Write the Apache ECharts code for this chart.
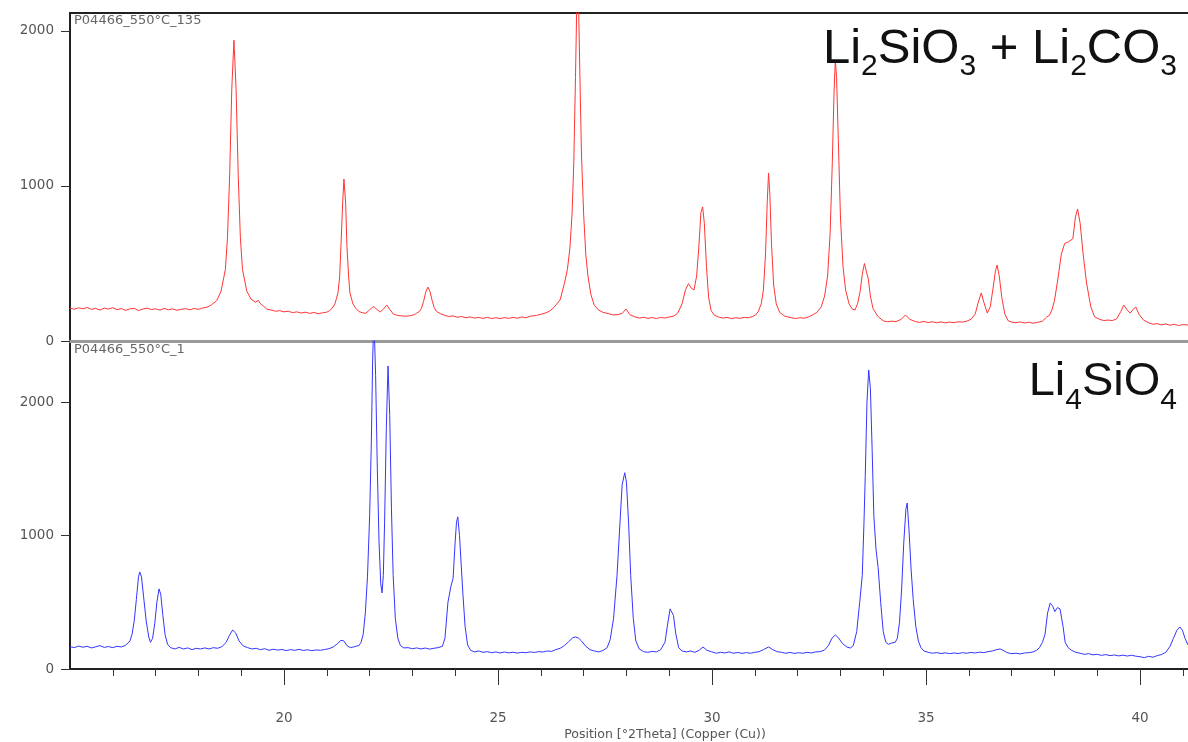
<!DOCTYPE html>
<html>
<head>
<meta charset="utf-8">
<script src="https://cdn.jsdelivr.net/npm/echarts@6/dist/echarts.min.js"></script>
<style>
html,body{margin:0;padding:0;background:#fff;}
#chart{width:1188px;height:742px;}
</style>
</head>
<body>
<div id="chart"></div>
<script>
// ---- Data ----
const xTickLabels = [20, 25, 30, 35, 40];
const xMinorTicks = [16,17,18,19,21,22,23,24,26,27,28,29,31,32,33,34,36,37,38,39,41];
const yTickLabels = [0, 1000, 2000];
const topSampleName = 'P04466_550°C_135';
const bottomSampleName = 'P04466_550°C_1';
const xAxisTitle = 'Position [°2Theta] (Copper (Cu))';
// Phase labels: [text, isSubscript]
const topPhase = [['Li', false], ['2', true], ['SiO', false], ['3', true], [' + Li', false], ['2', true], ['CO', false], ['3', true]];
const bottomPhase = [['Li', false], ['4', true], ['SiO', false], ['4', true]];

// Red pattern (Li2SiO3 + Li2CO3): [2theta, counts]
const redScan = [[15.0,212],[15.1,205],[15.2,214],[15.3,208],[15.4,216],[15.5,204],[15.6,210],[15.7,200],[15.8,212],[15.9,206],[16.0,215],[16.1,202],[16.2,209],[16.3,198],[16.4,207],[16.5,211],[16.6,196],[16.7,206],[16.8,212],[16.9,203],[17.0,208],[17.1,199],[17.2,210],[17.3,202],[17.4,207],[17.5,198],[17.6,204],[17.7,209],[17.8,201],[17.9,210],[18.0,204],[18.1,213],[18.2,218],[18.3,232],[18.43,261],[18.53,322],[18.63,461],[18.68,670],[18.73,1070],[18.78,1627],[18.83,1940],[18.88,1627],[18.93,1070],[18.98,670],[19.03,461],[19.13,322],[19.23,270],[19.33,250],[19.4,262],[19.45,240],[19.52,225],[19.6,205],[19.7,200],[19.8,192],[19.9,196],[20.0,188],[20.1,192],[20.2,183],[20.3,188],[20.4,180],[20.5,186],[20.6,178],[20.7,184],[20.8,176],[20.9,182],[21.0,186],[21.06,195],[21.12,210],[21.19,240],[21.26,310],[21.3,413],[21.33,612],[21.37,889],[21.4,1045],[21.44,889],[21.47,612],[21.51,413],[21.54,310],[21.61,240],[21.68,210],[21.75,190],[21.8,185],[21.9,178],[21.98,195],[22.05,215],[22.1,222],[22.18,200],[22.25,188],[22.32,205],[22.4,232],[22.47,205],[22.55,175],[22.65,165],[22.75,162],[22.85,160],[22.95,163],[23.05,170],[23.1,180],[23.16,190],[23.21,210],[23.26,255],[23.31,315],[23.36,348],[23.41,320],[23.46,262],[23.51,215],[23.56,192],[23.66,175],[23.76,165],[23.85,158],[23.95,162],[24.05,153],[24.15,158],[24.25,150],[24.35,155],[24.45,148],[24.55,152],[24.65,146],[24.75,153],[24.85,145],[24.95,150],[25.05,144],[25.15,151],[25.25,146],[25.35,152],[25.45,147],[25.55,155],[25.65,150],[25.75,160],[25.9,165],[26.0,172],[26.1,180],[26.2,192],[26.3,215],[26.45,265],[26.55,370],[26.62,460],[26.68,600],[26.73,820],[26.77,1150],[26.81,1700],[26.86,2500],[26.91,1750],[26.95,1200],[27.0,820],[27.05,560],[27.1,420],[27.17,300],[27.25,230],[27.35,200],[27.45,185],[27.6,175],[27.7,168],[27.8,170],[27.9,178],[27.99,206],[28.08,170],[28.2,155],[28.3,148],[28.4,153],[28.5,146],[28.6,151],[28.7,145],[28.8,152],[28.9,148],[29.0,155],[29.1,160],[29.2,180],[29.3,240],[29.38,330],[29.45,370],[29.52,340],[29.58,330],[29.64,420],[29.69,600],[29.74,830],[29.78,865],[29.82,760],[29.87,480],[29.92,280],[29.98,195],[30.06,165],[30.15,155],[30.25,148],[30.35,152],[30.45,145],[30.55,150],[30.65,146],[30.75,152],[30.85,150],[30.95,158],[31.02,168],[31.08,190],[31.15,240],[31.2,330],[31.25,560],[31.29,900],[31.32,1084],[31.35,950],[31.39,620],[31.44,360],[31.5,240],[31.58,185],[31.7,160],[31.85,150],[31.95,145],[32.05,150],[32.15,147],[32.25,155],[32.35,168],[32.45,185],[32.55,220],[32.63,290],[32.7,420],[32.76,700],[32.81,1150],[32.85,1600],[32.88,1813],[32.91,1700],[32.95,1300],[33.0,800],[33.06,480],[33.12,330],[33.2,240],[33.28,205],[33.34,200],[33.4,240],[33.46,320],[33.51,430],[33.56,500],[33.6,490],[33.65,400],[33.7,290],[33.76,210],[33.87,160],[34.0,130],[34.1,124],[34.2,128],[34.3,125],[34.42,140],[34.52,168],[34.62,140],[34.75,125],[34.85,120],[34.95,126],[35.05,119],[35.15,124],[35.25,118],[35.35,123],[35.45,117],[35.55,122],[35.65,118],[35.75,124],[35.85,122],[35.95,128],[36.05,140],[36.15,175],[36.22,250],[36.29,310],[36.35,250],[36.43,180],[36.5,220],[36.56,330],[36.62,450],[36.66,490],[36.71,420],[36.77,280],[36.84,175],[36.92,130],[37.0,122],[37.1,118],[37.2,123],[37.3,116],[37.4,121],[37.5,115],[37.6,120],[37.72,128],[37.82,155],[37.88,165],[37.94,200],[38.0,260],[38.08,400],[38.16,560],[38.24,630],[38.33,640],[38.43,660],[38.49,800],[38.54,852],[38.6,760],[38.67,560],[38.75,374],[38.85,220],[38.94,155],[39.05,140],[39.15,132],[39.25,135],[39.35,132],[39.45,142],[39.55,190],[39.62,232],[39.7,200],[39.77,180],[39.84,205],[39.9,219],[39.98,170],[40.08,135],[40.2,118],[40.3,108],[40.4,112],[40.5,104],[40.6,110],[40.7,102],[40.8,108],[40.9,100],[41.0,106],[41.12,103]];

// Blue pattern (Li4SiO4): [2theta, counts]
const blueScan = [[15.0,168],[15.1,160],[15.2,172],[15.3,163],[15.4,170],[15.5,158],[15.6,166],[15.7,175],[15.8,162],[15.9,168],[16.0,160],[16.1,170],[16.2,165],[16.3,178],[16.4,210],[16.45,260],[16.5,360],[16.55,520],[16.6,690],[16.63,727],[16.67,690],[16.72,540],[16.78,360],[16.84,240],[16.88,200],[16.93,230],[16.98,340],[17.03,500],[17.08,600],[17.12,560],[17.17,400],[17.22,260],[17.28,185],[17.35,160],[17.45,150],[17.55,162],[17.65,150],[17.75,158],[17.85,145],[17.95,155],[18.05,150],[18.15,158],[18.25,150],[18.35,160],[18.45,155],[18.55,168],[18.65,200],[18.72,250],[18.8,292],[18.87,270],[18.95,210],[19.05,172],[19.15,160],[19.25,150],[19.35,155],[19.45,145],[19.55,152],[19.65,140],[19.75,148],[19.85,142],[19.95,146],[20.05,138],[20.15,145],[20.25,140],[20.35,147],[20.45,139],[20.55,144],[20.65,137],[20.75,143],[20.85,140],[20.95,146],[21.05,152],[21.15,165],[21.25,190],[21.33,215],[21.4,210],[21.47,175],[21.55,160],[21.62,165],[21.7,172],[21.75,175],[21.8,200],[21.85,260],[21.9,420],[21.95,690],[22.0,1140],[22.04,1700],[22.07,2300],[22.1,2650],[22.14,2200],[22.18,1500],[22.22,950],[22.26,640],[22.29,570],[22.32,700],[22.35,1100],[22.39,1800],[22.43,2270],[22.47,1900],[22.51,1200],[22.55,700],[22.6,380],[22.66,230],[22.72,175],[22.8,158],[22.9,160],[23.0,152],[23.1,158],[23.2,150],[23.3,157],[23.4,149],[23.5,155],[23.6,160],[23.7,170],[23.76,230],[23.83,500],[23.9,620],[23.95,680],[24.0,960],[24.03,1100],[24.06,1140],[24.1,1000],[24.14,780],[24.18,560],[24.23,320],[24.29,180],[24.36,140],[24.45,128],[24.55,135],[24.65,125],[24.75,130],[24.85,122],[24.95,128],[25.05,120],[25.15,127],[25.25,121],[25.35,126],[25.45,119],[25.55,125],[25.65,122],[25.75,128],[25.85,124],[25.95,130],[26.05,127],[26.15,135],[26.25,132],[26.35,145],[26.45,155],[26.55,175],[26.65,205],[26.75,235],[26.81,240],[26.88,232],[26.95,210],[27.05,170],[27.15,145],[27.25,135],[27.35,128],[27.45,138],[27.55,160],[27.62,220],[27.7,380],[27.78,700],[27.85,1100],[27.9,1380],[27.96,1470],[28.0,1400],[28.05,1100],[28.1,700],[28.16,380],[28.22,210],[28.3,150],[28.4,130],[28.5,125],[28.6,132],[28.7,128],[28.8,145],[28.9,200],[28.96,330],[29.02,450],[29.06,463],[29.1,400],[29.15,270],[29.22,160],[29.3,135],[29.4,128],[29.5,135],[29.6,125],[29.7,140],[29.79,165],[29.88,140],[29.98,130],[30.1,118],[30.2,125],[30.3,120],[30.4,128],[30.5,118],[30.6,124],[30.7,117],[30.8,123],[30.9,118],[31.0,125],[31.1,130],[31.2,145],[31.32,165],[31.42,145],[31.52,130],[31.62,125],[31.72,118],[31.82,124],[31.92,117],[32.02,122],[32.12,118],[32.22,125],[32.32,120],[32.42,128],[32.52,130],[32.62,140],[32.72,175],[32.8,230],[32.88,255],[32.95,235],[33.05,190],[33.15,165],[33.23,157],[33.3,175],[33.38,280],[33.45,500],[33.51,700],[33.55,1100],[33.58,1450],[33.62,2000],[33.66,2240],[33.7,2100],[33.74,1650],[33.78,1150],[33.83,900],[33.88,760],[33.94,500],[34.0,280],[34.06,200],[34.12,185],[34.2,195],[34.28,200],[34.33,230],[34.38,350],[34.43,600],[34.48,950],[34.53,1200],[34.56,1243],[34.6,1050],[34.65,750],[34.7,520],[34.76,320],[34.82,210],[34.88,160],[34.95,135],[35.05,125],[35.15,118],[35.25,123],[35.35,116],[35.45,121],[35.55,115],[35.65,120],[35.75,116],[35.85,122],[35.95,118],[36.05,124],[36.15,120],[36.25,126],[36.35,123],[36.45,130],[36.55,135],[36.65,145],[36.73,150],[36.8,140],[36.88,125],[36.98,115],[37.1,118],[37.2,113],[37.3,120],[37.4,122],[37.5,128],[37.58,140],[37.65,160],[37.72,200],[37.78,260],[37.84,420],[37.9,494],[37.96,470],[38.01,430],[38.07,460],[38.13,450],[38.2,320],[38.25,200],[38.32,160],[38.4,140],[38.5,125],[38.6,118],[38.7,110],[38.8,115],[38.9,106],[39.0,110],[39.1,102],[39.2,108],[39.3,100],[39.4,105],[39.5,98],[39.6,104],[39.7,97],[39.8,103],[39.9,96],[40.0,92],[40.1,85],[40.2,95],[40.3,88],[40.4,100],[40.5,108],[40.6,125],[40.7,170],[40.78,230],[40.86,290],[40.93,315],[40.99,290],[41.05,230],[41.12,180]];

// ---- Helpers for chemical-formula labels (text layout only) ----
const measureCtx = document.createElement('canvas').getContext('2d');
function formulaGraphics(parts, rightX, baselineY, mainSize, subSize, subDrop, family) {
  const items = parts.map(function (p) {
    const size = p[1] ? subSize : mainSize;
    measureCtx.font = size + 'px "' + family + '"';
    measureCtx.textBaseline = 'middle';
    const m = measureCtx.measureText(p[0]);
    const ref = measureCtx.measureText(p[1] ? '2' : 'L');
    return {text: p[0], size: size, width: m.width, midToBase: ref.actualBoundingBoxDescent, sub: p[1]};
  });
  const total = items.reduce(function (s, it) { return s + it.width; }, 0);
  let x = rightX - total;
  const out = [];
  items.forEach(function (it) {
    const base = baselineY + (it.sub ? subDrop : 0);
    out.push({type: 'text', x: x, y: base - it.midToBase, z: 100, silent: true,
      style: {text: it.text, fontFamily: family, fontSize: it.size, fill: '#111',
              align: 'left', verticalAlign: 'middle'}});
    x += it.width;
  });
  return out;
}

// ---- Chart ----
const chart = echarts.init(document.getElementById('chart'), null, {renderer: 'canvas'});
const X_MIN = 15, X_MAX = 41.12;
const axisFont = {fontFamily: 'DejaVu Sans', fontSize: 13.5, color: '#555', formatter: function (v) { return String(v); }};
const dark = '#222';

const option = {
  animation: false,
  backgroundColor: '#ffffff',
  grid: [
    {left: 70, right: 0, top: 13, height: 328},
    {left: 70, right: 0, top: 341, height: 328}
  ],
  xAxis: [
    {gridIndex: 0, type: 'value', min: X_MIN, max: X_MAX, position: 'bottom',
     axisLine: {lineStyle: {color: '#9a9a9a', width: 3}}, axisTick: {show: false},
     axisLabel: {show: false}, splitLine: {show: false}},
    {gridIndex: 0, type: 'value', min: X_MIN, max: X_MAX, position: 'top',
     axisLine: {lineStyle: {color: dark, width: 2}}, axisTick: {show: false},
     axisLabel: {show: false}, splitLine: {show: false}},
    {gridIndex: 1, type: 'value', min: X_MIN, max: X_MAX, interval: 5, position: 'bottom',
     axisLine: {lineStyle: {color: dark, width: 2}},
     axisTick: {show: true, customValues: xTickLabels, length: 16, lineStyle: {color: '#333', width: 1}},
     axisLabel: Object.assign({customValues: xTickLabels, margin: 42}, axisFont),
     splitLine: {show: false}},
    {gridIndex: 1, type: 'value', min: X_MIN, max: X_MAX, position: 'bottom',
     axisLine: {show: false},
     axisTick: {show: true, customValues: xMinorTicks, length: 7, lineStyle: {color: '#333', width: 1}},
     axisLabel: {show: false}, splitLine: {show: false}}
  ],
  yAxis: [
    {gridIndex: 0, type: 'value', min: 0, max: 2116,
     axisLine: {show: true, lineStyle: {color: dark, width: 2}},
     axisTick: {show: true, customValues: yTickLabels, length: 9, lineStyle: {color: '#333'}},
     axisLabel: Object.assign({customValues: yTickLabels, margin: 16}, axisFont),
     splitLine: {show: false}},
    {gridIndex: 1, type: 'value', min: 0, max: 2457,
     axisLine: {show: true, lineStyle: {color: dark, width: 2}},
     axisTick: {show: true, customValues: yTickLabels, length: 9, lineStyle: {color: '#333'}},
     axisLabel: Object.assign({customValues: yTickLabels, margin: 16}, axisFont),
     splitLine: {show: false}}
  ],
  series: [
    {type: 'line', name: topSampleName, xAxisIndex: 0, yAxisIndex: 0, data: redScan,
     showSymbol: false, symbol: 'none', clip: true,
     lineStyle: {color: '#ff3535', width: 1}},
    {type: 'line', name: bottomSampleName, xAxisIndex: 2, yAxisIndex: 1, data: blueScan,
     showSymbol: false, symbol: 'none', clip: true,
     lineStyle: {color: '#3535ff', width: 1}}
  ],
  graphic: [
    {type: 'text', left: 74, top: 14, z: 100,
     style: {text: topSampleName, fontFamily: 'DejaVu Sans', fontSize: 13, fill: '#666'}},
    {type: 'text', left: 74, top: 343, z: 100,
     style: {text: bottomSampleName, fontFamily: 'DejaVu Sans', fontSize: 13, fill: '#666'}},
    {type: 'text', x: 665, y: 735, z: 100,
     style: {text: xAxisTitle, fontFamily: 'DejaVu Sans', fontSize: 12.5, fill: '#555', align: 'center', verticalAlign: 'middle'}}
  ].concat(
    formulaGraphics(topPhase, 1177, 63, 49, 30, 12, 'Liberation Sans'),
    formulaGraphics(bottomPhase, 1177, 395, 47, 30, 14, 'Liberation Sans')
  )
};
chart.setOption(option);
</script>
</body>
</html>
